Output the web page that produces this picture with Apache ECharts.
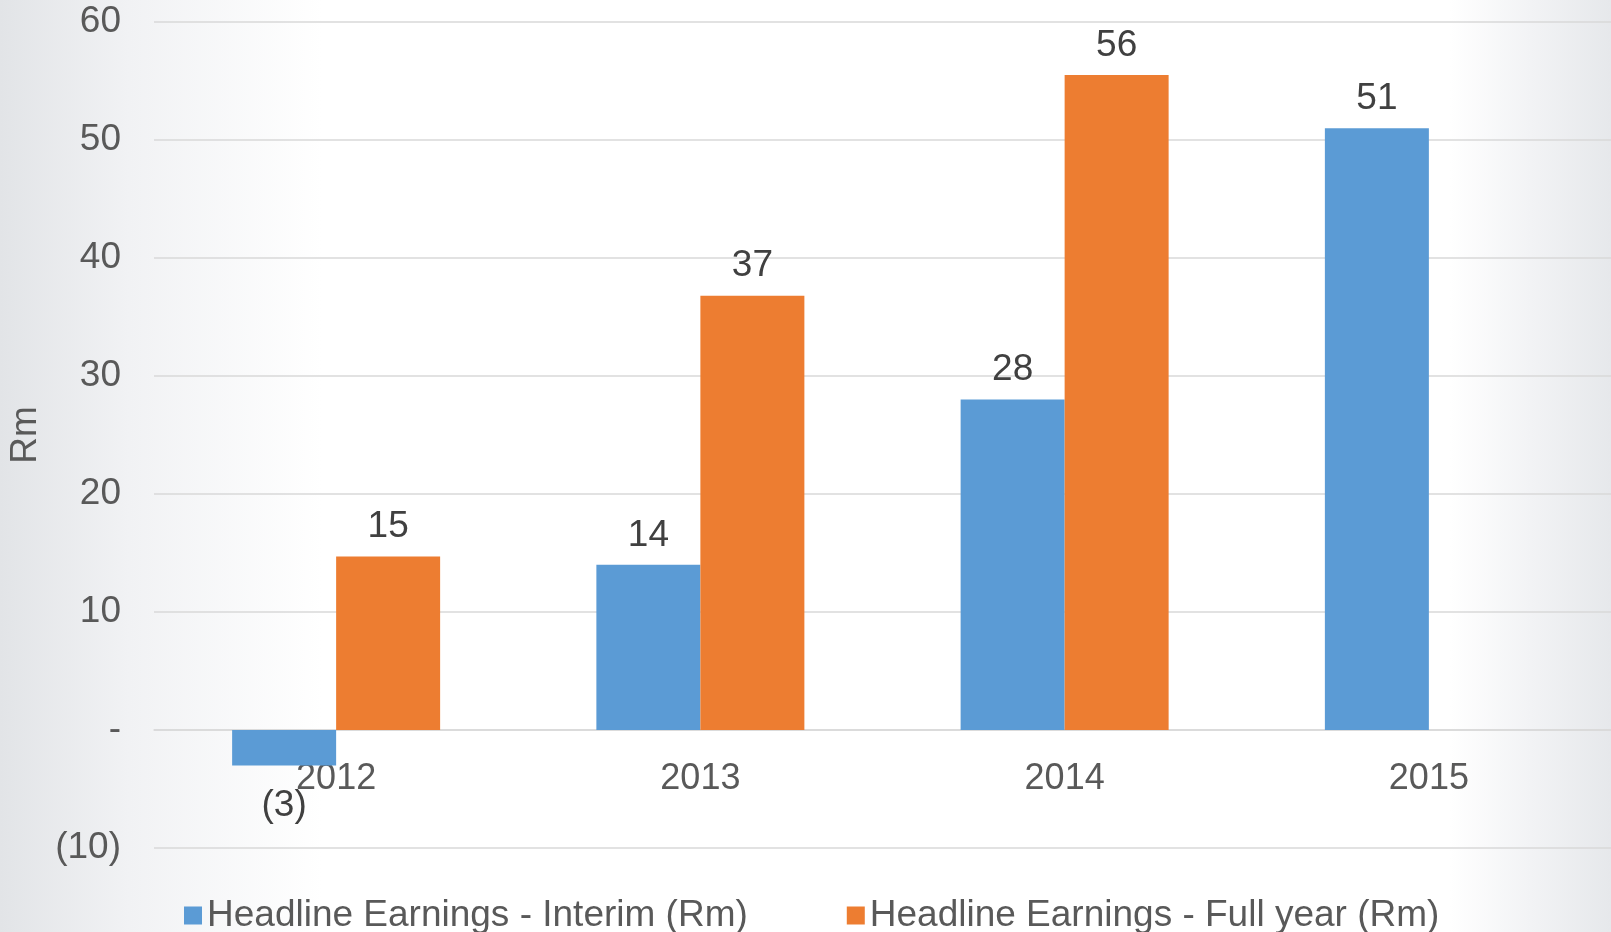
<!DOCTYPE html>
<html>
<head>
<meta charset="utf-8">
<style>
  html, body { margin: 0; padding: 0; background: #fff; }
  #chart { width: 1611px; height: 932px; }
</style>
<script src="https://cdn.jsdelivr.net/npm/echarts@6/dist/echarts.min.js"></script>
</head>
<body>
<div id="chart"></div>
<script>
// headline earnings chart — interim vs full year

const YEARS = ['2012', '2013', '2014', '2015'];
const INTERIM = [-3, 14, 28, 51];
const FULL_YEAR = [14.7, 36.8, 55.5, null];

const Y_TICKS = [-10, 0, 10, 20, 30, 40, 50, 60];
const Y_TICK_LABELS = ['(10)', '-', '10', '20', '30', '40', '50', '60'];

const SERIES_NAMES = ['Headline Earnings - Interim (Rm)', 'Headline Earnings - Full year (Rm)'];
const COLORS = ['#5B9BD5', '#ED7D31'];

const FONT = 'Arial, "Liberation Sans", Helvetica, sans-serif';

function fmtValue(v) {
  const n = Math.round(Math.abs(v));
  return v < 0 ? '(' + n + ')' : String(n);
}

function toData(values) {
  return values.map(v => v != null && v < 0
    ? { value: v, label: { position: 'bottom', distance: 22 } }
    : v);
}

const LABEL = {
  show: true,
  position: 'top',
  distance: 11,
  color: '#404040',
  fontSize: 37,
  fontFamily: FONT,
  formatter: p => fmtValue(p.value),
};

const chart = echarts.init(document.getElementById('chart'));

chart.setOption({
  animation: false,
  backgroundColor: new echarts.graphic.LinearGradient(0, 0, 1, 0, [
    { offset: 0, color: '#e2e4e7' },
    { offset: 0.08, color: '#f1f2f4' },
    { offset: 0.2, color: '#ffffff' },
    { offset: 0.9, color: '#ffffff' },
    { offset: 0.95, color: '#f2f3f5' },
    { offset: 1, color: '#e6e8eb' },
  ]),
  textStyle: { fontFamily: FONT },
  grid: { left: 154, right: 0, top: 22, bottom: 84, outerBoundsMode: 'none' },
  legend: {
    left: 179, top: 892,
    itemWidth: 18, itemHeight: 18, itemGap: 99,
    icon: 'rect',
    textStyle: { color: '#595959', fontSize: 37, fontFamily: FONT },
    data: SERIES_NAMES,
  },
  xAxis: {
    type: 'category',
    data: YEARS,
    axisLine: { onZero: true, lineStyle: { color: '#d9d9d9', width: 1.5 } },
    axisTick: { show: false },
    axisLabel: { color: '#595959', fontSize: 36, fontFamily: FONT, margin: -87 },
  },
  yAxis: {
    type: 'value',
    min: -10, max: 60, interval: 10,
    name: 'Rm',
    nameLocation: 'middle',
    nameGap: 107,
    nameRotate: 90,
    nameTextStyle: { color: '#595959', fontSize: 37, fontFamily: FONT },
    axisLine: { show: false },
    axisTick: { show: false },
    splitLine: { lineStyle: { color: '#d9d9d9', width: 1.5 } },
    axisLabel: {
      color: '#595959', fontSize: 37, fontFamily: FONT, margin: 33,
      formatter: v => Y_TICK_LABELS[Y_TICKS.indexOf(v)] ?? String(v),
    },
  },
  series: [
    {
      name: SERIES_NAMES[0], type: 'bar', data: toData(INTERIM),
      barWidth: 104, barGap: '0%',
      itemStyle: { color: COLORS[0] },
      label: LABEL,
    },
    {
      name: SERIES_NAMES[1], type: 'bar', data: toData(FULL_YEAR),
      barWidth: 104, barGap: '0%',
      itemStyle: { color: COLORS[1] },
      label: LABEL,
    },
  ],
});
</script>
</body>
</html>
